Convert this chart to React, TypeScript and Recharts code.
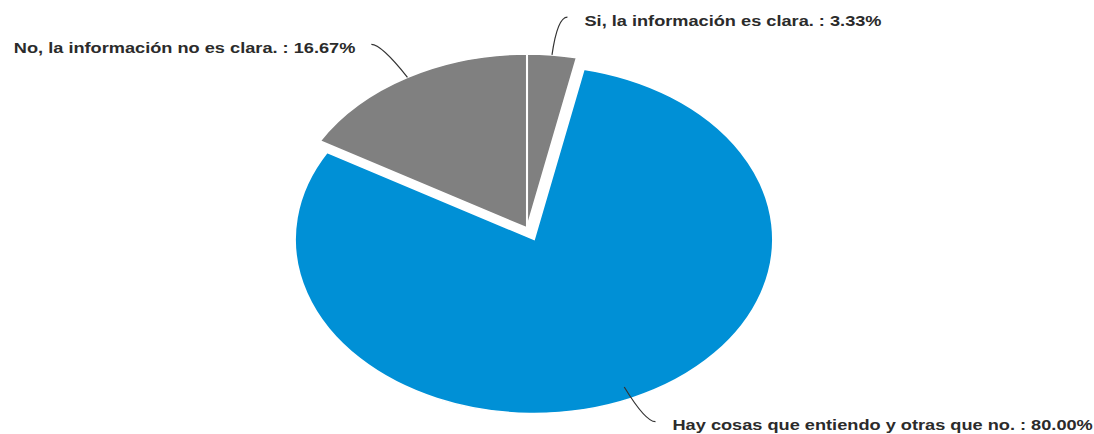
import React from "react";
import { PieChart, Pie, Cell, Sector } from "recharts";

const categories = [
  "Si, la información es clara.",
  "Hay cosas que entiendo y otras que no.",
  "No, la información no es clara.",
];
const counts = [1, 24, 5];
const colors = ["#808080", "#0090d6", "#808080"];
const exploded = [false, true, false];

const data = categories.map((name, i) => ({ name, value: counts[i] }));

const SX = 1.374; // horizontal stretch of the pie (ellipse)
const TEXT_SX = 1.3; // horizontal stretch of the label text
const EXPLODE = 12.5;
const RAD = Math.PI / 180;

const EllipseSector = (props: any) => {
  const { cx, midAngle, index } = props;
  let dx = 0;
  let dy = 0;
  if (exploded[index]) {
    dx = Math.cos(-midAngle * RAD) * EXPLODE;
    dy = Math.sin(-midAngle * RAD) * EXPLODE;
  }
  return (
    <g transform={`translate(${cx} 0) scale(${SX} 1) translate(${-cx} 0) translate(${dx} ${dy})`}>
      <Sector {...props} />
    </g>
  );
};

const LINE_LEN = 38;

const renderLabel = (props: any) => {
  const { cx, cy, midAngle, outerRadius, name, percent } = props;
  const c = Math.cos(-midAngle * RAD);
  const s = Math.sin(-midAngle * RAD);
  const ex = cx + SX * outerRadius * c;
  const ey = cy + outerRadius * s;
  const px = cx + SX * (outerRadius + LINE_LEN) * c;
  const py = cy + (outerRadius + LINE_LEN) * s;
  const side = c >= 0 ? 1 : -1;
  const endX = px + side * 10;
  const endY = py;
  const tx = side > 0 ? endX + 17 : endX - 16;
  return (
    <g>
      <path
        d={`M${ex},${ey} Q${px},${py} ${endX},${endY}`}
        stroke="#333"
        strokeWidth={1.2}
        fill="none"
      />
      <g transform={`translate(${tx} ${endY + 3.5}) scale(${TEXT_SX} 1)`}>
        <text
          x={0}
          y={0}
          textAnchor={side > 0 ? "start" : "end"}
          dominantBaseline="central"
          fontFamily="'Liberation Sans', Arial, sans-serif"
          fontWeight="bold"
          fontSize={14}
          fill="#2b2b2b"
        >
          {`${name} : ${(percent * 100).toFixed(2)}%`}
        </text>
      </g>
    </g>
  );
};

export default function App() {
  return (
    <div style={{ position: "absolute", left: 0, top: 0, width: 1094, height: 434, background: "#fff" }}>
      <PieChart width={1094} height={434} margin={{ top: 0, right: 0, bottom: 0, left: 0 }}>
        <Pie
          data={data}
          dataKey="value"
          nameKey="name"
          cx={527}
          cy={228}
          outerRadius={174}
          startAngle={90}
          endAngle={-270}
          stroke="#ffffff"
          strokeWidth={1.5}
          isAnimationActive={false}
          shape={EllipseSector}
          label={renderLabel}
          labelLine={false}
        >
          {data.map((d, i) => (
            <Cell key={d.name} fill={colors[i]} />
          ))}
        </Pie>
      </PieChart>
    </div>
  );
}
